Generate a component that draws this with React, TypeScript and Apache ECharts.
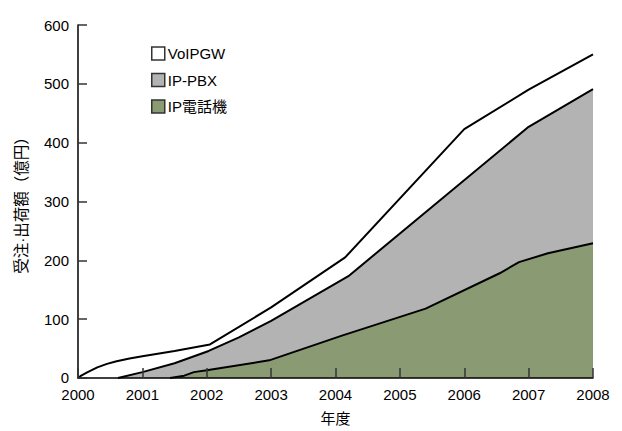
import React, { useEffect, useRef } from "react";
import * as echarts from "echarts";

// Cumulative boundary lines: [fiscal year, 億円]
const voipgwTotalYears = [2000, 2000.05, 2000.15, 2000.3, 2000.45, 2000.6, 2000.8, 2001, 2001.5, 2002.05, 2003, 2004.15, 2006, 2007, 2008];
const voipgwTotalValues = [0, 4, 10, 18, 24, 28.5, 33, 37, 46, 57, 120, 205, 423, 490, 550];

const ipPbxTopYears = [2000.62, 2001, 2001.5, 2002.03, 2002.5, 2003, 2004.2, 2007, 2008];
const ipPbxTopValues = [0, 10, 25, 46, 69, 97, 173, 427, 491];

const ipPhoneYears = [2001.43, 2001.65, 2001.8, 2002, 2002.97, 2004.1, 2005.4, 2006.55, 2006.85, 2007.3, 2008];
const ipPhoneValues = [0, 4, 10, 13, 30, 72, 118, 178, 197, 212, 229];

const seriesNames = ["VoIPGW", "IP-PBX", "IP電話機"];
const seriesColors = ["#ffffff", "#b3b3b3", "#8a9a72"];

const yTicks = [0, 100, 200, 300, 400, 500, 600];
const xTicks = [2000, 2001, 2002, 2003, 2004, 2005, 2006, 2007, 2008];

const yAxisTitle = "受注·出荷額（億円）";
const xAxisTitle = "年度";

const FONT = "'Liberation Sans', Arial, 'Noto Sans CJK JP', sans-serif";

function pairs(xs: number[], ys: number[]) {
  return xs.map((x, i) => [x, ys[i]]);
}

export default function App() {
  const ref = useRef<HTMLDivElement>(null);
  useEffect(() => {
    if (!ref.current) return;
    const chart = echarts.init(ref.current, undefined, { renderer: "svg" });
    const lists = [
      pairs(voipgwTotalYears, voipgwTotalValues),
      pairs(ipPbxTopYears, ipPbxTopValues),
      pairs(ipPhoneYears, ipPhoneValues),
    ];
    chart.setOption({
      animation: false,
      backgroundColor: "#ffffff",
      textStyle: { fontFamily: FONT },
      grid: { left: 78, right: 29, top: 25, bottom: 48, containLabel: false },
      legend: {
        orient: "vertical",
        left: 146,
        top: 41,
        itemWidth: 13,
        itemHeight: 13,
        itemGap: 11.5,
        icon: "rect",
        textStyle: { fontSize: 15, color: "#000", fontFamily: FONT, padding: [0, 0, 0, -2] },
        data: seriesNames.map((n, i) => ({
          name: n,
          itemStyle: { color: seriesColors[i], borderColor: "#333", borderWidth: 1.5 },
        })),
      },
      xAxis: {
        type: "value",
        min: xTicks[0],
        max: xTicks[xTicks.length - 1],
        interval: 1,
        z: 10,
        name: xAxisTitle,
        nameLocation: "middle",
        nameGap: 33,
        nameTextStyle: { fontSize: 15, color: "#000", fontFamily: FONT },
        axisLine: { lineStyle: { color: "#000", width: 1.5 } },
        axisTick: { inside: true, length: 10, lineStyle: { color: "#333", width: 1.5 } },
        axisLabel: { fontSize: 15, color: "#000", margin: 9, formatter: (v: number) => String(v) },
        splitLine: { show: false },
      },
      yAxis: {
        type: "value",
        min: yTicks[0],
        max: yTicks[yTicks.length - 1],
        interval: 100,
        z: 10,
        name: yAxisTitle,
        nameLocation: "middle",
        nameGap: 49,
        nameTextStyle: { fontSize: 15.5, color: "#000", fontFamily: FONT },
        axisLine: { show: true, lineStyle: { color: "#000", width: 1.5 } },
        axisTick: { show: true, inside: true, length: 9, lineStyle: { color: "#333", width: 1.5 } },
        axisLabel: { fontSize: 15, color: "#000", margin: 9 },
        splitLine: { show: false },
      },
      series: seriesNames.map((n, i) => ({
        name: n,
        type: "line",
        data: lists[i],
        symbol: "none",
        smooth: false,
        lineStyle: { color: "#000", width: 2 },
        itemStyle: { color: seriesColors[i] },
        areaStyle: { color: seriesColors[i], opacity: 1 },
        z: 2 + i,
      })),
    });
    return () => chart.dispose();
  }, []);
  return (
    <div
      ref={ref}
      style={{ position: "fixed", left: 0, top: 0, width: 622, height: 431 }}
    />
  );
}
